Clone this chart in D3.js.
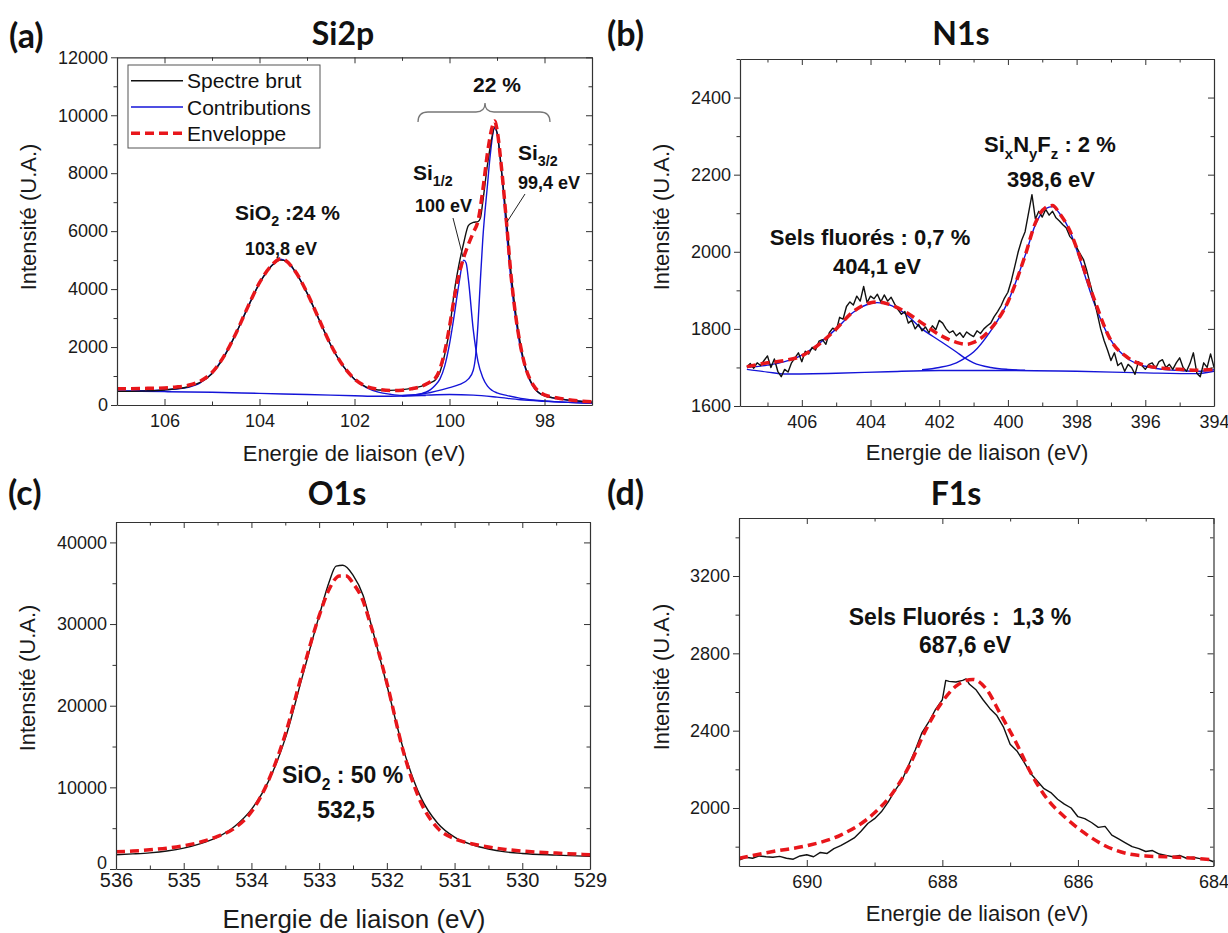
<!DOCTYPE html>
<html><head><meta charset="utf-8">
<script src="https://cdn.jsdelivr.net/npm/d3@7"></script>
<style>
body{margin:0;background:#fff;}
svg{display:block;}
</style></head><body>
<svg id="fig" width="1228" height="933"></svg>
<script>
// ---------------- DATA ----------------
// (a) Si2p  [binding energy eV, intensity]
const si2pRaw = [[107,470],[106.5,480],[106,520],[105.75,560],[105.5,630],[105.25,780],[105,1080],[104.75,1650],[104.5,2450],[104.25,3350],[104,4200],[103.75,4800],[103.55,5000],[103.4,4950],[103.25,4600],[103,3870],[102.75,2960],[102.5,2070],[102.25,1370],[102,890],[101.75,620],[101.5,520],[101.25,505],[101,530],[100.8,575],[100.6,640],[100.5,700],[100.4,770],[100.3,860],[100.2,1150],[100.1,1750],[100,2600],[99.9,3900],[99.8,4850],[99.7,5600],[99.6,6200],[99.5,6300],[99.4,6330],[99.35,6450],[99.3,7000],[99.2,8300],[99.1,9300],[99.05,9600],[99,9400],[98.9,8000],[98.8,6400],[98.7,4500],[98.6,3100],[98.5,2050],[98.4,1300],[98.3,850],[98.2,560],[98.1,400],[98,320],[97.75,230],[97.5,170],[97.25,130],[97,100]];
const si2pEnvelope = [[107,560],[106.5,570],[106,590],[105.75,620],[105.5,680],[105.25,820],[105,1120],[104.75,1680],[104.5,2460],[104.25,3370],[104,4220],[103.75,4810],[103.55,5050],[103.25,4620],[103,3880],[102.75,2970],[102.5,2080],[102.25,1380],[102,900],[101.75,640],[101.5,540],[101.25,500],[101,510],[100.8,560],[100.6,640],[100.5,710],[100.4,800],[100.3,920],[100.2,1250],[100.1,1850],[100,2700],[99.9,3700],[99.8,4500],[99.7,5100],[99.6,5550],[99.5,5950],[99.4,6350],[99.3,7400],[99.2,8700],[99.1,9600],[99.05,9800],[99,9500],[98.9,8100],[98.8,6300],[98.7,4400],[98.6,3000],[98.5,2000],[98.4,1300],[98.3,870],[98.2,600],[98.1,440],[98,350],[97.75,250],[97.5,180],[97.25,140],[97,110]];
const si2pBackground = [[107,480],[106,460],[105,440],[104,400],[103,360],[102,320],[101.5,300],[101,310],[100.5,340],[100,360],[99.5,340],[99,270],[98.5,180],[98,130],[97.5,90],[97,60]];
const si2pSiO2 = [[107,480],[106.5,490],[106,520],[105.75,550],[105.5,610],[105.25,760],[105,1100],[104.75,1680],[104.5,2450],[104.25,3360],[104,4210],[103.75,4800],[103.55,5030],[103.25,4610],[103,3870],[102.75,2960],[102.5,2070],[102.25,1370],[102,885],[101.75,600],[101.5,445],[101.25,370],[101,330],[100.5,330]];
const si2pSi12 = [[101,320],[100.8,340],[100.6,390],[100.5,440],[100.4,530],[100.3,680],[100.2,900],[100.1,1350],[100,2100],[99.9,3100],[99.8,4200],[99.7,5000],[99.65,4900],[99.6,4300],[99.5,2600],[99.4,1500],[99.3,950],[99.2,650],[99.1,500],[99,420],[98.8,330],[98.5,230],[98,140],[97.5,90],[97,60]];
const si2pSi32 = [[101,320],[100.5,400],[100,600],[99.8,700],[99.6,900],[99.5,1200],[99.45,1700],[99.4,2800],[99.35,4300],[99.3,5700],[99.2,7600],[99.15,8500],[99.05,9550],[99,9400],[98.9,8000],[98.8,6000],[98.7,4200],[98.6,2900],[98.5,1900],[98.4,1250],[98.3,820],[98.2,550],[98.1,400],[98,320],[97.75,220],[97.5,170],[97.25,130],[97,100]];

// (b) N1s
const n1sRaw = [[407.6,1702],[407.5,1710],[407.4,1698],[407.3,1712],[407.2,1705],[407.1,1718],[407.0,1730],[406.9,1700],[406.8,1722],[406.7,1690],[406.6,1676],[406.5,1695],[406.4,1688],[406.3,1712],[406.2,1725],[406.1,1738],[406.0,1715],[405.9,1742],[405.8,1735],[405.7,1752],[405.6,1745],[405.5,1768],[405.4,1772],[405.3,1760],[405.2,1790],[405.1,1802],[405.0,1795],[404.9,1830],[404.8,1825],[404.7,1858],[404.6,1870],[404.5,1862],[404.4,1885],[404.3,1872],[404.2,1910],[404.1,1868],[404.0,1885],[403.9,1878],[403.8,1890],[403.7,1870],[403.6,1888],[403.5,1872],[403.4,1882],[403.3,1865],[403.2,1850],[403.1,1838],[403.0,1845],[402.9,1815],[402.8,1822],[402.7,1800],[402.6,1812],[402.5,1795],[402.4,1805],[402.3,1790],[402.2,1808],[402.1,1798],[402.0,1822],[401.9,1815],[401.8,1800],[401.7,1790],[401.6,1795],[401.5,1782],[401.4,1790],[401.3,1778],[401.2,1792],[401.1,1785],[401.0,1780],[400.9,1795],[400.8,1788],[400.7,1800],[400.6,1808],[400.5,1815],[400.4,1832],[400.3,1845],[400.2,1860],[400.1,1880],[400.0,1895],[399.9,1925],[399.8,1962],[399.7,2000],[399.6,2030],[399.5,2052],[399.4,2100],[399.3,2148],[399.2,2085],[399.1,2105],[399.0,2090],[398.9,2110],[398.8,2095],[398.7,2105],[398.6,2088],[398.5,2080],[398.4,2070],[398.3,2062],[398.2,2040],[398.1,2030],[398.0,2012],[397.9,1995],[397.8,1980],[397.7,1950],[397.6,1915],[397.5,1880],[397.4,1840],[397.3,1800],[397.2,1770],[397.1,1745],[397.0,1718],[396.9,1738],[396.8,1705],[396.7,1712],[396.6,1690],[396.5,1708],[396.4,1700],[396.3,1682],[396.2,1715],[396.1,1705],[396.0,1695],[395.9,1708],[395.8,1712],[395.7,1698],[395.6,1715],[395.5,1720],[395.4,1700],[395.3,1708],[395.2,1695],[395.1,1712],[395.0,1725],[394.9,1700],[394.8,1690],[394.7,1710],[394.6,1738],[394.5,1685],[394.4,1676],[394.3,1712],[394.2,1700],[394.1,1735],[394.0,1700]];
const n1sEnvelope = [[407.6,1702],[407,1712],[406.5,1718],[406,1730],[405.5,1760],[405,1800],[404.5,1845],[404,1868],[403.8,1870],[403.5,1865],[403,1845],[402.5,1815],[402,1785],[401.5,1765],[401.2,1760],[401,1765],[400.5,1800],[400,1870],[399.5,1990],[399.2,2075],[398.9,2115],[398.7,2120],[398.5,2100],[398.2,2055],[398,2010],[397.5,1880],[397,1770],[396.5,1725],[396,1705],[395.5,1698],[395,1695],[394.5,1693],[394,1695]];
const n1sBackground = [[407.6,1695],[407,1688],[406.5,1683],[405,1685],[403.5,1689],[402,1692],[400,1692],[398,1690],[396,1686],[394.5,1684],[394,1690]];
const n1sSelsFluores = [[407.6,1700],[407,1706],[406.5,1715],[406,1732],[405.5,1762],[405,1800],[404.5,1843],[404,1866],[403.8,1868],[403.5,1864],[403,1840],[402.5,1800],[402,1770],[401.5,1740],[401.25,1724],[401,1712],[400.5,1700],[400,1695],[399.5,1693]];
const n1sSiNF = [[402.5,1694],[402,1700],[401.5,1712],[401.25,1724],[401,1740],[400.5,1795],[400,1870],[399.5,1990],[399.2,2070],[398.9,2112],[398.7,2117],[398.5,2100],[398.2,2055],[398,2005],[397.5,1870],[397,1770],[396.5,1722],[396,1703],[395.5,1695],[395,1692],[394.5,1690],[394,1694]];

// (c) O1s
const o1sRaw = [[536,1750],[535.75,1850],[535.5,1980],[535.25,2200],[535,2550],[534.75,3100],[534.5,3900],[534.25,5200],[534,7300],[533.75,10700],[533.5,16000],[533.25,23500],[533,31000],[532.85,35200],[532.75,37100],[532.65,37200],[532.5,36000],[532.35,33500],[532.25,30500],[532,22500],[531.75,14500],[531.5,8800],[531.25,5600],[531,3900],[530.75,3000],[530.5,2450],[530.25,2100],[530,1900],[529.5,1700],[529,1550]];
const o1sEnvelope = [[536,2100],[535.75,2200],[535.5,2350],[535.25,2550],[535,2850],[534.75,3300],[534.5,4000],[534.25,5000],[534,7000],[533.75,10800],[533.5,16500],[533.25,24000],[533,31000],[532.85,34300],[532.7,35900],[532.6,35900],[532.5,35000],[532.35,32800],[532.25,30200],[532,22800],[531.75,14200],[531.5,8200],[531.25,5000],[531,3700],[530.75,3100],[530.5,2700],[530.25,2400],[530,2200],[529.5,1950],[529,1750]];

// (d) F1s
const f1sRaw = [[691.0,1730],[690.9,1745],[690.8,1740],[690.7,1752],[690.6,1748],[690.5,1745],[690.4,1750],[690.3,1740],[690.2,1735],[690.1,1752],[690.0,1758],[689.9,1748],[689.8,1770],[689.7,1765],[689.6,1790],[689.5,1805],[689.4,1825],[689.3,1845],[689.2,1880],[689.1,1920],[689.0,1945],[688.9,1980],[688.8,2030],[688.7,2090],[688.6,2140],[688.5,2220],[688.4,2300],[688.3,2390],[688.2,2445],[688.1,2510],[688.0,2560],[687.95,2660],[687.9,2655],[687.8,2652],[687.7,2660],[687.65,2668],[687.6,2640],[687.5,2610],[687.4,2560],[687.3,2515],[687.2,2480],[687.1,2420],[687.0,2330],[686.9,2295],[686.8,2240],[686.7,2180],[686.6,2140],[686.5,2100],[686.4,2080],[686.3,2045],[686.2,2020],[686.1,2000],[686.0,1955],[685.9,1945],[685.8,1925],[685.7,1900],[685.6,1905],[685.5,1860],[685.4,1840],[685.3,1820],[685.2,1800],[685.1,1790],[685.0,1775],[684.9,1780],[684.8,1762],[684.7,1755],[684.6,1748],[684.5,1755],[684.4,1740],[684.3,1745],[684.2,1738],[684.1,1735],[684.0,1722]];
const f1sEnvelope = [[691,1740],[690.5,1775],[690,1805],[689.5,1860],[689,1975],[688.75,2070],[688.5,2210],[688.25,2400],[688,2550],[687.8,2630],[687.55,2665],[687.35,2615],[687.15,2490],[686.9,2330],[686.7,2185],[686.45,2045],[686.2,1955],[685.9,1870],[685.6,1805],[685.25,1762],[685,1752],[684.5,1745],[684,1732]];

// tick values
const si2pXTicks = [106,104,102,100,98], si2pXMinor = [107,105,103,101,99,97];
const si2pYTicks = [0,2000,4000,6000,8000,10000,12000], si2pYMinor = [1000,3000,5000,7000,9000,11000];
const n1sXTicks = [406,404,402,400,398,396,394], n1sXMinor = [407,405,403,401,399,397,395];
const n1sYTicks = [1600,1800,2000,2200,2400], n1sYMinor = [1700,1900,2100,2300,2500];
const o1sXTicks = [536,535,534,533,532,531,530,529], o1sXMinor = [535.5,534.5,533.5,532.5,531.5,530.5,529.5];
const o1sYTicks = [0,10000,20000,30000,40000], o1sYMinor = [5000,15000,25000,35000];
const f1sXTicks = [690,688,686,684], f1sXMinor = [691,689,687,685];
const f1sYTicks = [2000,2400,2800,3200], f1sYMinor = [1800,2200,2600,3000,3400];

const legendLabels = ["Spectre brut","Contributions","Enveloppe"];

// ---------------- DRAWING ----------------
const F = '"Liberation Sans", Arial, sans-serif';
const FT = 'Lato, "Open Sans", sans-serif';
const BLACK = "#111", BLUE = "#1414d8", RED = "#e8161b";
const svg = d3.select("#fig");
const fmt = d3.format("d");

function styleAxis(sel, size) {
  sel.select(".domain").attr("stroke", "#333").attr("stroke-width", 1.2);
  sel.selectAll(".tick line").attr("stroke", "#333").attr("stroke-width", 1);
  sel.selectAll("text").attr("font-family", F).attr("font-size", size).attr("fill", "#1a1a1a");
}

function drawPanel(p) {
  const [L, R, T, B] = p.box;
  const x = d3.scaleLinear().domain(p.xDomain).range([L, R]);
  const y = d3.scaleLinear().domain(p.yDomain).range([B, T]);
  const g = svg.append("g");
  g.append("clipPath").attr("id", "clip-" + p.id).append("rect")
    .attr("x", L).attr("y", T).attr("width", R - L).attr("height", B - T);
  const plot = g.append("g").attr("clip-path", `url(#clip-${p.id})`);
  p.series.forEach(s => {
    const line = d3.line().x(d => x(d[0])).y(d => y(d[1]))
      .curve(s.smooth ? d3.curveMonotoneX : d3.curveLinear);
    plot.append("path").datum(s.data).attr("d", line).attr("fill", "none")
      .attr("stroke", s.color).attr("stroke-width", s.width)
      .attr("stroke-dasharray", s.dash || null).attr("stroke-linejoin", "round");
  });
  // axes
  const ax = g.append("g");
  ax.append("g").attr("transform", `translate(0,${B})`)
    .call(d3.axisBottom(x).tickValues(p.xTicks).tickSize(-6).tickSizeOuter(0).tickPadding(p.xPad).tickFormat(fmt))
    .call(s => styleAxis(s, p.xFont));
  ax.append("g").attr("transform", `translate(0,${B})`)
    .call(d3.axisBottom(x).tickValues(p.xMinor).tickSize(-3.5).tickFormat(""))
    .call(s => { s.select(".domain").remove(); styleAxis(s, p.xFont); });
  ax.append("g").attr("transform", `translate(0,${T})`)
    .call(d3.axisTop(x).tickValues(p.xTicks).tickSize(-6).tickSizeOuter(0).tickFormat(""))
    .call(s => styleAxis(s, p.xFont));
  ax.append("g").attr("transform", `translate(0,${T})`)
    .call(d3.axisTop(x).tickValues(p.xMinor).tickSize(-3.5).tickFormat(""))
    .call(s => { s.select(".domain").remove(); styleAxis(s, p.xFont); });
  const yAxisG = ax.append("g").attr("transform", `translate(${L},0)`)
    .call(d3.axisLeft(y).tickValues(p.yTicks).tickSize(6).tickSizeOuter(0).tickPadding(3).tickFormat(fmt))
    .call(s => styleAxis(s, p.yFont));
  if (p.lowZeroLabel) {
    yAxisG.selectAll(".tick").filter(d => d === p.yDomain[0]).select("text").attr("dy", "-0.02em");
  }
  ax.append("g").attr("transform", `translate(${L},0)`)
    .call(d3.axisLeft(y).tickValues(p.yMinor).tickSize(3.5).tickFormat(""))
    .call(s => { s.select(".domain").remove(); styleAxis(s, p.yFont); });
  ax.append("g").attr("transform", `translate(${R},0)`)
    .call(d3.axisRight(y).tickValues(p.yTicks).tickSize(-6).tickSizeOuter(0).tickFormat(""))
    .call(s => styleAxis(s, p.yFont));
  ax.append("g").attr("transform", `translate(${R},0)`)
    .call(d3.axisRight(y).tickValues(p.yMinor).tickSize(-3.5).tickFormat(""))
    .call(s => { s.select(".domain").remove(); styleAxis(s, p.yFont); });
  // axis titles
  g.append("text").attr("x", p.xTitle[0]).attr("y", p.xTitle[1]).attr("text-anchor", "middle")
    .attr("font-family", F).attr("font-size", p.xTitle[2]).attr("fill", "#1a1a1a").text("Energie de liaison (eV)");
  g.append("text").attr("transform", `translate(${p.yTitle[0]},${p.yTitle[1]}) rotate(-90)`).attr("text-anchor", "middle")
    .attr("font-family", F).attr("font-size", 22).attr("fill", "#1a1a1a").text("Intensité (U.A.)");
  // panel letter and title
  g.append("text").attr("x", p.letter[0]).attr("y", p.letter[1]).attr("font-family", FT).attr("font-weight", 700)
    .attr("font-size", 34).attr("fill", "#111").text(p.letter[2]);
  g.append("text").attr("x", p.title[0]).attr("y", p.title[1]).attr("text-anchor", "middle").attr("font-family", FT)
    .attr("font-weight", 700).attr("font-size", 32).attr("fill", "#111").text(p.title[2]);
  return {g, x, y};
}

// rich text with subscripts: parts = [[text, isSub], ...]
function rich(g, x, y, parts, size, anchor) {
  const t = g.append("text").attr("x", x).attr("y", y).attr("font-family", F).attr("font-weight", 700)
    .attr("font-size", size).attr("fill", "#111").attr("text-anchor", anchor || "start");
  let down = false;
  parts.forEach(([s, sub]) => {
    const ts = t.append("tspan").text(s);
    if (sub && !down) { ts.attr("dy", size * 0.3).attr("font-size", size * 0.68); down = true; }
    else if (sub) { ts.attr("font-size", size * 0.68); }
    else if (!sub && down) { ts.attr("dy", -size * 0.3); down = false; }
  });
  return t;
}

const seriesStyle = {
  raw: {color: BLACK, width: 1.4},
  comp: {color: BLUE, width: 1.4},
  env: {color: RED, width: 3.5, dash: "9,5"}
};

// ----- (a) Si2p -----
const pa = drawPanel({
  id: "a", box: [117, 592, 57.3, 405], xDomain: [107, 97], yDomain: [0, 12000],
  xTicks: si2pXTicks, xMinor: si2pXMinor, yTicks: si2pYTicks, yMinor: si2pYMinor,
  xPad: 9, xFont: 18, yFont: 18, xTitle: [354, 461, 22], yTitle: [36, 217],
  letter: [9, 48, "(a)"], title: [343, 45, "Si2p"],
  series: [
    {data: si2pBackground, smooth: true, ...seriesStyle.comp},
    {data: si2pSiO2, smooth: true, ...seriesStyle.comp},
    {data: si2pSi12, smooth: true, ...seriesStyle.comp},
    {data: si2pSi32, smooth: true, ...seriesStyle.comp},
    {data: si2pRaw, smooth: true, ...seriesStyle.raw},
    {data: si2pEnvelope, smooth: true, ...seriesStyle.env}
  ]
});
{
  const g = pa.g;
  // legend
  const lg = g.append("g");
  lg.append("rect").attr("x", 128).attr("y", 65).attr("width", 192).attr("height", 83)
    .attr("fill", "#fff").attr("stroke", "#555").attr("stroke-width", 1);
  const legendStyles = [seriesStyle.raw, seriesStyle.comp, seriesStyle.env];
  legendLabels.forEach((lab, i) => {
    const yy = 80.7 + i * 26.3;
    const st = legendStyles[i];
    lg.append("line").attr("x1", 131).attr("x2", 183).attr("y1", yy).attr("y2", yy)
      .attr("stroke", st.color).attr("stroke-width", i === 2 ? 3.5 : 1.6).attr("stroke-dasharray", st.dash || null);
    lg.append("text").attr("x", 187).attr("y", yy + 7.5).attr("font-family", F).attr("font-size", 21)
      .attr("fill", "#111").text(lab);
  });
  rich(g, 235, 220, [["SiO"], ["2", true], [" :24 %"]], 21);
  rich(g, 245, 255, [["103,8 eV"]], 18);
  rich(g, 497, 92, [["22 %"]], 21, "middle");
  // brace
  g.append("path").attr("d", "M418,122 Q418,112 428,112 L476,112 Q485,112 485,103 Q485,112 494,112 L540,112 Q550,112 550,122")
    .attr("fill", "none").attr("stroke", "#777").attr("stroke-width", 1.3);
  rich(g, 413, 180, [["Si"], ["1/2", true]], 21);
  rich(g, 415, 212, [["100 eV"]], 18);
  rich(g, 518, 160, [["Si"], ["3/2", true]], 21);
  rich(g, 518, 189, [["99,4 eV"]], 18);
  g.append("line").attr("x1", 453).attr("y1", 218).attr("x2", 463).attr("y2", 257).attr("stroke", "#222").attr("stroke-width", 1);
  g.append("line").attr("x1", 525).attr("y1", 194).attr("x2", 507).attr("y2", 222).attr("stroke", "#222").attr("stroke-width", 1);
}

// ----- (b) N1s -----
const pb = drawPanel({
  id: "b", box: [740, 1214, 59, 406], xDomain: [407.8, 394], yDomain: [1600, 2500],
  xTicks: n1sXTicks, xMinor: n1sXMinor, yTicks: n1sYTicks, yMinor: n1sYMinor,
  xPad: 9, xFont: 18, yFont: 18, xTitle: [977, 460, 22], yTitle: [669, 217],
  letter: [607, 46, "(b)"], title: [961, 45, "N1s"],
  series: [
    {data: n1sBackground, smooth: true, ...seriesStyle.comp},
    {data: n1sSelsFluores, smooth: true, ...seriesStyle.comp},
    {data: n1sSiNF, smooth: true, ...seriesStyle.comp},
    {data: n1sRaw, smooth: false, ...seriesStyle.raw},
    {data: n1sEnvelope, smooth: true, ...seriesStyle.env}
  ]
});
rich(pb.g, 984, 152, [["Si"], ["x", true], ["N"], ["y", true], ["F"], ["z", true], [" : 2 %"]], 22);
rich(pb.g, 1051, 187, [["398,6 eV"]], 22, "middle");
rich(pb.g, 870, 245, [["Sels fluorés : 0,7 %"]], 22, "middle");
rich(pb.g, 877, 274, [["404,1 eV"]], 22, "middle");

// ----- (c) O1s -----
const pc = drawPanel({
  id: "c", box: [116, 590, 522, 869], xDomain: [536, 529], yDomain: [0, 42500],
  xTicks: o1sXTicks, xMinor: o1sXMinor, yTicks: o1sYTicks, yMinor: o1sYMinor,
  xPad: 4, xFont: 20, yFont: 18, xTitle: [354, 928, 26], yTitle: [35, 678],
  letter: [8, 505, "(c)"], title: [337, 505, "O1s"], lowZeroLabel: true,
  series: [
    {data: o1sRaw, smooth: true, ...seriesStyle.raw},
    {data: o1sEnvelope, smooth: true, ...seriesStyle.env}
  ]
});
rich(pc.g, 282, 783, [["SiO"], ["2", true], [" : 50 %"]], 23);
rich(pc.g, 346, 818, [["532,5"]], 23, "middle");

// ----- (d) F1s -----
const pd = drawPanel({
  id: "d", box: [739, 1213.5, 518, 866], xDomain: [691, 684], yDomain: [1700, 3500],
  xTicks: f1sXTicks, xMinor: f1sXMinor, yTicks: f1sYTicks, yMinor: f1sYMinor,
  xPad: 9, xFont: 18, yFont: 18, xTitle: [977, 921, 22], yTitle: [669, 677],
  letter: [607, 505, "(d)"], title: [956, 505, "F1s"],
  series: [
    {data: f1sRaw, smooth: false, ...seriesStyle.raw},
    {data: f1sEnvelope, smooth: true, ...seriesStyle.env}
  ]
});
rich(pd.g, 960, 625, [["Sels Fluorés :  1,3 %"]], 23, "middle").style("white-space", "pre");
rich(pd.g, 965, 653, [["687,6 eV"]], 23, "middle");
</script></body></html>
